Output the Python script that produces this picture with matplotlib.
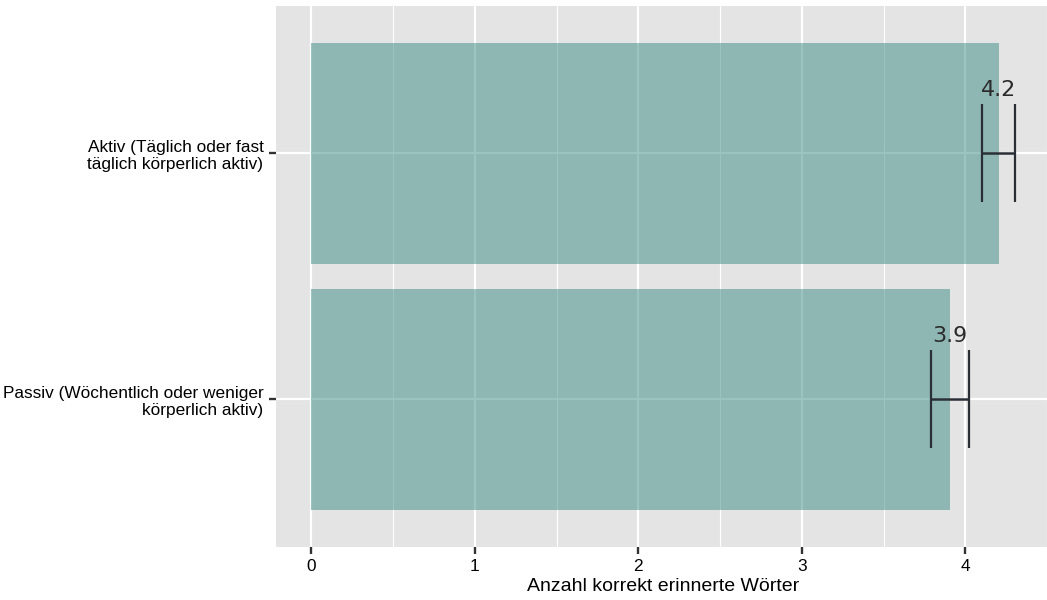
import numpy as np
import matplotlib.pyplot as plt
from matplotlib.ticker import MultipleLocator

# Daten
gruppen = ['Aktiv (Täglich oder fast\ntäglich körperlich aktiv)',
           'Passiv (Wöchentlich oder weniger\nkörperlich aktiv)']
mittelwerte = [4.204, 3.907]
fehler = [0.1, 0.115]

bar_farbe = '#398b85'
bg = '#e4e4e4'

fig = plt.figure(figsize=(10.47, 6.0), dpi=100)
ax = fig.add_axes([0.2636, 0.0888, 0.739, 0.9012])
ax.set_facecolor(bg)

pos = np.arange(len(gruppen))
ax.barh(pos, mittelwerte, height=0.9, color=bar_farbe, alpha=0.5, zorder=2)
ax.errorbar(mittelwerte, pos, xerr=fehler, fmt='none', ecolor='#2a2e35',
            elinewidth=1.8, capsize=35, capthick=1.6, zorder=3)

for p, m in zip(pos, mittelwerte):
    ax.text(m, p - 0.232, f'{m:.1f}', ha='center', va='baseline',
            fontsize=16, color='#2b2b2b', family='DejaVu Sans', zorder=4)

ax.set_xlim(-0.215, 4.515)
ax.set_ylim(1.6, -0.6)
ax.set_yticks(pos)
ax.set_yticklabels(gruppen, fontsize=12.4, family='Liberation Sans', color='black')
ax.xaxis.set_major_locator(MultipleLocator(1))
ax.xaxis.set_minor_locator(MultipleLocator(0.5))
ax.tick_params(axis='x', labelsize=12.4, colors='#333333', labelcolor='black',
               length=5, width=1.7, pad=4)
ax.tick_params(axis='y', colors='#333333', labelcolor='black',
               length=5, width=1.7, pad=4)
ax.tick_params(axis='x', which='minor', length=0)
for lbl in ax.get_xticklabels():
    lbl.set_family('Liberation Sans')

ax.set_axisbelow(True)
ax.grid(True, which='major', color='white', linewidth=1.6, zorder=0)
ax.grid(True, which='minor', axis='x', color='white', linewidth=0.8, zorder=0)
for s in ax.spines.values():
    s.set_visible(False)

ax.set_xlabel('Anzahl korrekt erinnerte Wörter', fontsize=14,
              family='Liberation Sans', labelpad=3)

fig.savefig('out.png', dpi=100)
